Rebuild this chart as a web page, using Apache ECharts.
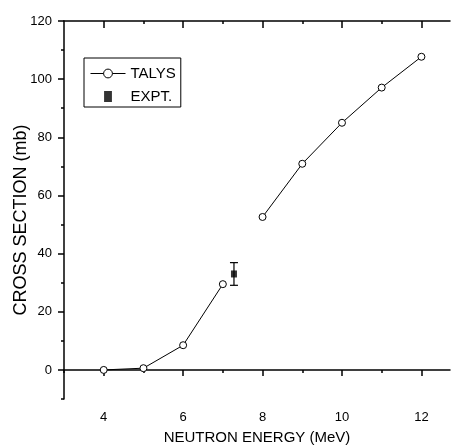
<!DOCTYPE html>
<html>
<head>
<meta charset="utf-8">
<script src="https://cdn.jsdelivr.net/npm/echarts@6/dist/echarts.min.js"></script>
<style>
  html, body { margin: 0; padding: 0; background: #fff; }
  #chart { width: 451px; height: 445px; }
</style>
</head>
<body>
<div id="chart"></div>
<script>
// TALYS calculation, two segments (line is broken between 7 and 8 MeV)
var talysEnergyA = [4, 5, 6, 7];
var talysCsA = [0, 0.6, 8.5, 29.5];
var talysEnergyB = [8, 9, 10, 11, 12];
var talysCsB = [52.6, 70.9, 85.0, 97.1, 107.7];

// measured point
var exptEnergy = [7.28];
var exptCs = [33.0];
var exptErr = [3.9];

var xMajorTicks = [4, 6, 8, 10, 12];
var xMinorTicks = [3, 5, 7, 9, 11];
var yMajorTicks = [0, 20, 40, 60, 80, 100, 120];
var yMinorTicks = [-10, 10, 30, 50, 70, 90, 110];

function pairs(xs, ys) {
  return xs.map(function (x, i) { return [x, ys[i]]; });
}

var font = 'Liberation Sans, Arial, sans-serif';
var lineStyle = { color: '#000', width: 1.5 };

function xAxisBase(pos) {
  return {
    type: 'value', min: 3, max: 12.72, position: pos,
    splitLine: { show: false }
  };
}
function yAxisBase() {
  return {
    type: 'value', min: -10, max: 120, position: 'left',
    splitLine: { show: false }
  };
}

var chart = echarts.init(document.getElementById('chart'));
chart.setOption({
  animation: false,
  backgroundColor: '#fff',
  textStyle: { fontFamily: font },
  grid: { left: 64, top: 21, right: 1, bottom: 46, containLabel: false, outerBoundsMode: 'none' },
  legend: {
    left: 84, top: 58, orient: 'vertical',
    padding: [8, 5, 3, 6],
    borderColor: '#000', borderWidth: 1,
    itemWidth: 35, itemHeight: 11, itemGap: 8,
    lineStyle: { width: 1 },
    itemStyle: { borderWidth: 1 },
    textStyle: { fontFamily: font, fontSize: 15, color: '#000' },
    data: [
      { name: 'TALYS' },
      { name: 'EXPT.', icon: 'path://M0,0 h5 v7 h-5 z' }
    ]
  },
  xAxis: [
    // bottom, major ticks + labels + name
    Object.assign(xAxisBase('bottom'), {
      name: 'NEUTRON ENERGY (MeV)', nameLocation: 'middle', nameGap: 31, nameMoveOverlap: false,
      nameTextStyle: { fontFamily: font, fontSize: 15, color: '#000' },
      axisLine: { lineStyle: lineStyle },
      axisTick: { customValues: xMajorTicks, length: 6, lineStyle: lineStyle },
      axisLabel: { customValues: xMajorTicks, margin: 12, fontSize: 13, color: '#000', fontFamily: font }
    }),
    // bottom, minor ticks
    Object.assign(xAxisBase('bottom'), {
      axisLine: { show: false },
      axisTick: { customValues: xMinorTicks, length: 3, lineStyle: lineStyle },
      axisLabel: { show: false }
    }),
    // top, major ticks inward
    Object.assign(xAxisBase('top'), {
      axisLine: { lineStyle: lineStyle },
      axisTick: { customValues: xMajorTicks, inside: true, length: 7, lineStyle: lineStyle },
      axisLabel: { show: false }
    }),
    // top, minor ticks inward
    Object.assign(xAxisBase('top'), {
      axisLine: { show: false },
      axisTick: { customValues: xMinorTicks.slice(1), inside: true, length: 3, lineStyle: lineStyle },
      axisLabel: { show: false }
    })
  ],
  yAxis: [
    Object.assign(yAxisBase(), {
      name: 'CROSS SECTION (mb)', nameLocation: 'middle', nameGap: 34, nameMoveOverlap: false,
      nameTextStyle: { fontFamily: font, fontSize: 18, color: '#000', padding: [0, 20, 0, 0] },
      axisLine: { lineStyle: lineStyle },
      axisTick: { customValues: yMajorTicks, length: 6, lineStyle: lineStyle },
      axisLabel: { customValues: yMajorTicks, margin: 12, fontSize: 13, color: '#000', fontFamily: font }
    }),
    Object.assign(yAxisBase(), {
      axisLine: { show: false },
      axisTick: { customValues: yMinorTicks, length: 3, lineStyle: lineStyle },
      axisLabel: { show: false }
    })
  ],
  series: [
    {
      name: 'TALYS', type: 'line', data: pairs(talysEnergyA, talysCsA),
      symbol: 'circle', symbolSize: 7, showAllSymbol: true,
      lineStyle: { color: '#000', width: 1 },
      itemStyle: { color: '#fff', borderColor: '#000', borderWidth: 1 }
    },
    {
      name: 'TALYS', type: 'line', data: pairs(talysEnergyB, talysCsB),
      symbol: 'circle', symbolSize: 7, showAllSymbol: true,
      lineStyle: { color: '#000', width: 1 },
      itemStyle: { color: '#fff', borderColor: '#000', borderWidth: 1 }
    },
    {
      name: 'EXPT. error', type: 'custom',
      data: exptEnergy.map(function (x, i) { return [x, exptCs[i] - exptErr[i], exptCs[i] + exptErr[i]]; }),
      renderItem: function (params, api) {
        var lo = api.coord([api.value(0), api.value(1)]);
        var hi = api.coord([api.value(0), api.value(2)]);
        var w = 4;
        var st = { stroke: '#000', lineWidth: 1.2 };
        return {
          type: 'group',
          children: [
            { type: 'line', shape: { x1: lo[0], y1: lo[1], x2: hi[0], y2: hi[1] }, style: st },
            { type: 'line', shape: { x1: lo[0] - w, y1: lo[1], x2: lo[0] + w, y2: lo[1] }, style: st },
            { type: 'line', shape: { x1: hi[0] - w, y1: hi[1], x2: hi[0] + w, y2: hi[1] }, style: st }
          ]
        };
      },
      z: 3
    },
    {
      name: 'EXPT.', type: 'scatter', data: pairs(exptEnergy, exptCs),
      symbol: 'rect', symbolSize: [6, 7],
      itemStyle: { color: '#000' }, z: 4
    }
  ]
});
</script>
</body>
</html>
